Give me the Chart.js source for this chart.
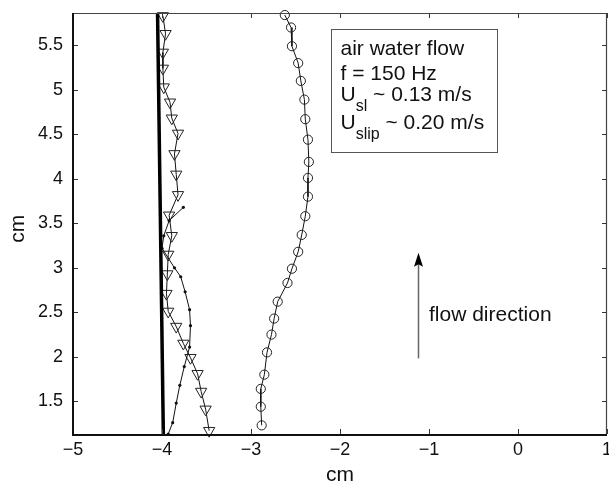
<!DOCTYPE html>
<html><head><meta charset="utf-8">
<script src="https://cdn.jsdelivr.net/npm/chart.js@4"></script>
<style>html,body{margin:0;padding:0;background:#fff;}canvas{display:block;}</style>
</head><body>
<canvas id="c" width="609" height="484"></canvas>
<script>
// ---- data ----
const xTicks = [-5, -4, -3, -2, -1, 0, 1];
const yTicks = [1.5, 2, 2.5, 3, 3.5, 4, 4.5, 5, 5.5];
const xRange = [-5, 1];
const yRange = [1.133, 5.863];

const wallX = [-4.05, -3.985];
const wallY = [5.863, 1.133];

const circleX = [-2.62, -2.55, -2.54, -2.47, -2.44, -2.40, -2.39, -2.36, -2.35, -2.36, -2.36, -2.39, -2.43, -2.47, -2.54, -2.59, -2.70, -2.74, -2.77, -2.82, -2.85, -2.89, -2.89, -2.88];
const circleY = [5.84, 5.70, 5.49, 5.30, 5.10, 4.89, 4.67, 4.44, 4.19, 4.01, 3.80, 3.58, 3.37, 3.18, 2.99, 2.83, 2.62, 2.43, 2.25, 2.05, 1.80, 1.64, 1.44, 1.23];

const triX = [-3.99, -3.96, -3.99, -3.99, -3.98, -3.91, -3.89, -3.82, -3.86, -3.84, -3.82, -3.92, -3.89, -3.93, -3.94, -3.95, -3.93, -3.84, -3.76, -3.68, -3.60, -3.56, -3.51, -3.47];
const triY = [5.83, 5.63, 5.42, 5.24, 5.03, 4.86, 4.68, 4.51, 4.28, 4.05, 3.82, 3.59, 3.36, 3.15, 2.93, 2.71, 2.51, 2.34, 2.15, 1.99, 1.81, 1.61, 1.41, 1.17];

const dotX = [-3.76, -3.92, -3.98, -4.00, -3.86, -3.79, -3.74, -3.69, -3.68, -3.69, -3.75, -3.80, -3.84, -3.88, -3.93];
const dotY = [3.68, 3.53, 3.36, 3.22, 3.00, 2.90, 2.73, 2.53, 2.35, 2.11, 1.89, 1.68, 1.48, 1.26, 1.133];

const xTitle = 'cm';
const yTitle = 'cm';
const infoLines = ['air water flow', 'f = 150 Hz'];
const flowText = 'flow direction';

// annotation placement (data coordinates)
const BOX = {x0: -2.10, x1: -0.24, yTop: 5.68, yBot: 4.30};
const ARROW = {x: -1.127, yFrom: 1.983, yTo: 3.17};
const FLOW = {x: -1.0, y: 2.406};
const Y_TITLE_POS = {px: 18, value: 3.44};

const FONT = 'Liberation Sans';
const pts = (xs, ys) => xs.map((x, i) => ({x, y: ys[i]}));
const minus = v => String(v).replace('-', '\u2212');
const noPad = s => { s.paddingLeft = 0; s.paddingRight = 0; s.paddingTop = 0; s.paddingBottom = 0; };

const frame = {
  id: 'frame',
  afterDraw(chart) {
    const {ctx, chartArea: a, scales: {x, y}} = chart;
    ctx.save();
    const seg = (x1, y1, x2, y2) => { ctx.beginPath(); ctx.moveTo(x1, y1); ctx.lineTo(x2, y2); ctx.stroke(); };
    // inward ticks
    ctx.strokeStyle = '#333'; ctx.lineWidth = 1;
    xTicks.forEach(v => {
      const px = Math.round(x.getPixelForValue(v)) + 0.5;
      seg(px, a.bottom, px, a.bottom - 5);
      seg(px, a.top, px, a.top + 5);
    });
    yTicks.forEach(v => {
      const py = Math.round(y.getPixelForValue(v)) + 0.5;
      seg(a.left, py, a.left + 5, py);
      seg(a.right, py, a.right - 5, py);
    });
    // box
    ctx.strokeStyle = '#444'; ctx.lineWidth = 1.2;
    seg(a.left, a.top + 0.5, a.right, a.top + 0.5);
    seg(a.right - 0.5, a.top, a.right - 0.5, a.bottom);
    ctx.strokeStyle = '#111'; ctx.lineWidth = 2;
    seg(a.left - 1, a.bottom + 1, a.right, a.bottom + 1);
    seg(a.left, a.top, a.left, a.bottom + 2);

    const big = '21px "' + FONT + '"', small = '16px "' + FONT + '"';

    // y axis title
    ctx.save();
    ctx.translate(Y_TITLE_POS.px, y.getPixelForValue(Y_TITLE_POS.value));
    ctx.rotate(-Math.PI / 2);
    ctx.font = big; ctx.fillStyle = '#111';
    ctx.textAlign = 'center'; ctx.textBaseline = 'middle';
    ctx.fillText(yTitle, 0, 0);
    ctx.restore();

    // info box
    const bx0 = Math.round(x.getPixelForValue(BOX.x0)) + 0.5, bx1 = Math.round(x.getPixelForValue(BOX.x1)) + 0.5;
    const by0 = Math.round(y.getPixelForValue(BOX.yTop)) + 0.5, by1 = Math.round(y.getPixelForValue(BOX.yBot)) + 0.5;
    ctx.fillStyle = '#fff';
    ctx.fillRect(bx0, by0, bx1 - bx0, by1 - by0);
    ctx.strokeStyle = '#555'; ctx.lineWidth = 1;
    ctx.strokeRect(bx0, by0, bx1 - bx0, by1 - by0);
    ctx.fillStyle = '#111';
    ctx.textBaseline = 'alphabetic'; ctx.textAlign = 'left';
    const tx = bx0 + 9;
    ctx.font = big;
    ctx.fillText(infoLines[0], tx, by0 + 25);
    ctx.fillText(infoLines[1], tx, by0 + 50);
    const sub = (base, s, rest, yb) => {
      ctx.font = big; ctx.fillText(base, tx, yb);
      let cx = tx + ctx.measureText(base).width;
      ctx.font = small; ctx.fillText(s, cx, yb + 10);
      cx += ctx.measureText(s).width;
      ctx.font = big; ctx.fillText(rest, cx, yb);
    };
    sub('U', 'sl', ' ~ 0.13 m/s', by0 + 71);
    sub('U', 'slip', ' ~ 0.20 m/s', by0 + 99);

    // arrow
    const ax = Math.round(x.getPixelForValue(ARROW.x)) + 0.5;
    const ay0 = y.getPixelForValue(ARROW.yFrom), ay1 = y.getPixelForValue(ARROW.yTo);
    ctx.strokeStyle = '#666'; ctx.lineWidth = 1.5;
    seg(ax, ay0, ax, ay1 + 11);
    ctx.fillStyle = '#000';
    ctx.beginPath();
    ctx.moveTo(ax, ay1);
    ctx.lineTo(ax - 4.5, ay1 + 14);
    ctx.lineTo(ax, ay1 + 11.5);
    ctx.lineTo(ax + 4.5, ay1 + 14);
    ctx.closePath(); ctx.fill();

    // flow text
    ctx.fillStyle = '#111'; ctx.font = big;
    ctx.fillText(flowText, x.getPixelForValue(FLOW.x), y.getPixelForValue(FLOW.y));
    ctx.restore();
  }
};

const lineDs = (xs, ys, extra) => Object.assign({
  data: pts(xs, ys), showLine: true, tension: 0, borderColor: '#111', borderWidth: 1,
  pointBackgroundColor: 'rgba(0,0,0,0)', pointBorderColor: '#222', pointBorderWidth: 1, clip: false
}, extra);

new Chart(document.getElementById('c'), {
  type: 'scatter',
  data: {
    datasets: [
      lineDs(wallX, wallY, {borderColor: '#000', borderWidth: 3.5, pointRadius: 0}),
      lineDs(dotX, dotY, {pointRadius: 1.6, pointBackgroundColor: '#111', pointBorderWidth: 0}),
      lineDs(triX, triY, {pointStyle: 'triangle', rotation: 180, pointRadius: 6.5}),
      lineDs(circleX, circleY, {pointStyle: 'circle', pointRadius: 4.6})
    ]
  },
  options: {
    responsive: false, animation: false, events: [],
    layout: {autoPadding: false, padding: {top: 13, right: 2, left: 0, bottom: 0}},
    plugins: {legend: {display: false}, tooltip: {enabled: false}},
    scales: {
      x: {
        type: 'linear', min: xRange[0], max: xRange[1],
        afterFit: s => { s.height = 50; noPad(s); },
        afterBuildTicks: s => { s.ticks = xTicks.map(v => ({value: v})); },
        grid: {display: false, drawTicks: false, tickLength: 0}, border: {display: false},
        ticks: {padding: 5, color: '#111', font: {family: FONT, size: 18}, callback: minus, maxRotation: 0, autoSkip: false},
        title: {display: true, text: xTitle, color: '#111', font: {family: FONT, size: 21}, padding: {top: 0, bottom: -4}}
      },
      y: {
        type: 'linear', min: yRange[0], max: yRange[1],
        afterFit: s => { s.width = 73; noPad(s); },
        afterBuildTicks: s => { s.ticks = yTicks.map(v => ({value: v})); },
        grid: {display: false, drawTicks: false, tickLength: 0}, border: {display: false},
        ticks: {padding: 10, color: '#111', font: {family: FONT, size: 18}, callback: minus, autoSkip: false},
        title: {display: false}
      }
    }
  },
  plugins: [frame]
});
</script>
</body></html>
